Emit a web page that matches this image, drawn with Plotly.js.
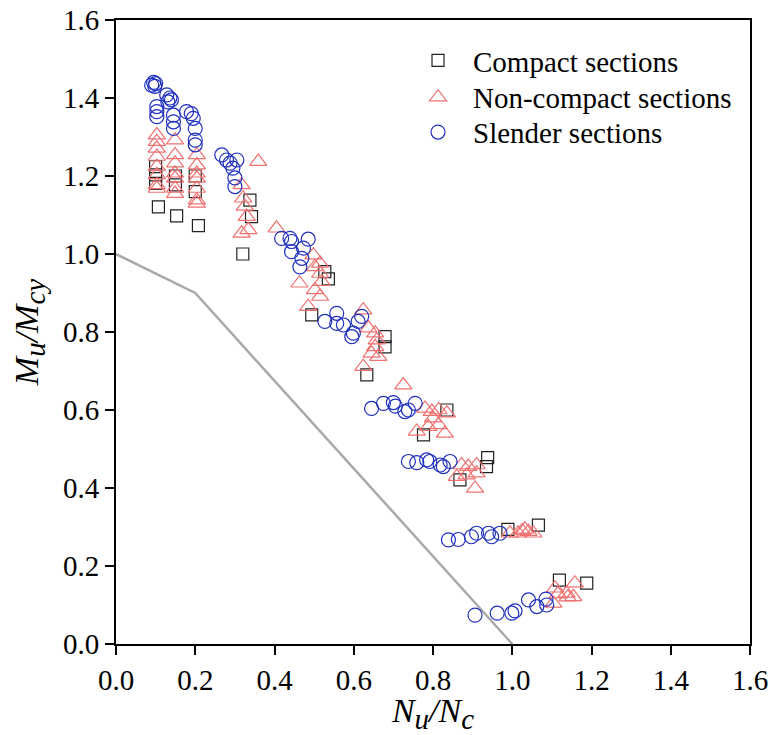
<!DOCTYPE html>
<html>
<head>
<meta charset="utf-8">
<script src="https://cdn.plot.ly/plotly-3.0.1.min.js"></script>
<style>html,body{margin:0;padding:0;background:#fff;}#chart{width:769px;height:735px;}</style>
</head>
<body>
<div id="chart"></div>
<script>
// Design curve
const curveX = [0.0, 0.2, 1.0];
const curveY = [1.0, 0.9, 0.0];

// Compact sections
const compactX = [0.107,0.10,0.10,0.10, 0.153,0.15,0.15, 0.208,0.20,0.20, 0.32, 0.338,0.342, 0.527,0.536,0.494, 0.679,0.679,0.633, 0.835,0.776, 0.938,0.935,0.868, 0.989,1.066, 1.119,1.188];
const compactY = [1.121,1.224,1.203,1.181, 1.098,1.20,1.177, 1.073,1.20,1.16, 1.0, 1.138,1.096, 0.955,0.936,0.844, 0.788,0.762,0.69, 0.60,0.536, 0.478,0.455,0.421, 0.294,0.305, 0.164,0.156];

// Non-compact sections
const noncompactX = [0.103,0.103,0.103,0.103,0.103,0.103,0.103,0.103,
  0.149,0.149,0.149,0.149,0.149,0.149,0.149,
  0.204,0.204,0.204,0.204,0.204,0.204,0.204,
  0.359, 0.317,0.321,0.325,0.330,0.334,0.317,
  0.405,
  0.498,0.515,0.502,0.515,0.519,0.463,0.502,0.515,0.485,
  0.624,0.637,0.654,0.658,0.654,0.645,0.662,0.624,
  0.725,
  0.780,0.797,0.814,0.835,0.800,0.814,0.788,0.759,0.830,
  0.872,0.889,0.910,0.885,0.860,0.910,0.906,
  0.994,1.015,1.032,1.041,1.053,1.025,
  1.108,1.104,1.137,1.158,1.154,1.140,1.115];
const noncompactY = [1.305,1.288,1.271,1.250,1.224,1.203,1.177,1.168,
  1.292,1.254,1.233,1.207,1.194,1.168,1.155,
  1.254,1.228,1.207,1.194,1.168,1.138,1.130,
  1.237, 1.177,1.143,1.122,1.096,1.062,1.053,
  1.066,
  0.997,0.976,0.967,0.950,0.929,0.925,0.908,0.891,0.865,
  0.856,0.810,0.797,0.779,0.762,0.745,0.737,0.711,
  0.664,
  0.604,0.596,0.600,0.592,0.579,0.562,0.557,0.545,0.540,
  0.459,0.455,0.459,0.433,0.429,0.438,0.399,
  0.284,0.284,0.294,0.288,0.284,0.290,
  0.143,0.104,0.130,0.156,0.121,0.120,0.128];

// Slender sections
const slenderX = [0.090,0.095,0.100,0.098,
  0.128,0.136,0.131,0.140,
  0.103,0.103,0.103,
  0.145,0.145,0.145,
  0.178,0.190,0.195,0.200,0.200,0.200,
  0.267,0.279,0.288,0.305,0.300,0.300,0.295,
  0.418,0.439,0.443,0.485,0.443,0.473,0.469,0.464,
  0.527,0.557,0.557,0.574,0.599,0.595,0.611,0.620,
  0.645,0.675,0.700,0.705,0.729,0.755,0.738,
  0.738,0.759,0.784,0.792,0.818,0.826,0.843,
  0.839,0.864,0.897,0.910,0.940,0.948,0.969,
  0.906,0.962,0.999,1.007,1.041,1.062,1.085,1.087];
const slenderY = [1.433,1.440,1.437,1.430,
  1.408,1.400,1.390,1.395,
  1.378,1.365,1.352,
  1.356,1.339,1.322,
  1.365,1.360,1.348,1.322,1.292,1.280,
  1.254,1.241,1.233,1.241,1.195,1.173,1.220,
  1.040,1.040,1.032,1.038,1.006,1.015,0.989,0.967,
  0.827,0.848,0.822,0.818,0.797,0.788,0.827,0.840,
  0.604,0.617,0.619,0.610,0.596,0.617,0.600,
  0.468,0.465,0.472,0.468,0.459,0.455,0.468,
  0.267,0.268,0.275,0.284,0.284,0.275,0.284,
  0.074,0.079,0.079,0.085,0.113,0.096,0.115,0.100];

const tickVals = [0.0,0.2,0.4,0.6,0.8,1.0,1.2,1.4,1.6];
const tickText = ['0.0','0.2','0.4','0.6','0.8','1.0','1.2','1.4','1.6'];

const FONT = 'Liberation Serif';

const traces = [
  {x: curveX, y: curveY, mode: 'lines', line: {color: '#a9a9a9', width: 2.5}, showlegend: false, hoverinfo: 'skip'},
  {x: compactX, y: compactY, mode: 'markers', name: 'Compact sections', legend: 'legend',
   marker: {symbol: 'square-open', size: 12, color: '#222222', line: {width: 1.2}}},
  {x: noncompactX, y: noncompactY, mode: 'markers', name: 'Non-compact sections', legend: 'legend2',
   marker: {symbol: 'triangle-up-open', size: 15, color: '#f07070', line: {width: 1.2}}},
  {x: slenderX, y: slenderY, mode: 'markers', name: 'Slender sections', legend: 'legend3',
   marker: {symbol: 'circle-open', size: 14, color: '#1f2fbf', line: {width: 1.2}}}
];

const axisCommon = {
  range: [0, 1.6], tickvals: tickVals, ticktext: tickText,
  showgrid: false, zeroline: false, showline: true, linecolor: '#000', linewidth: 2,
  mirror: true, ticks: 'outside', ticklen: 9, tickwidth: 2, tickcolor: '#000',
  tickfont: {family: FONT, size: 29, color: '#000'}
};

function legendAt(yv) {
  return {
    x: 0.4527, y: yv, xanchor: 'left', yanchor: 'top',
    bgcolor: 'rgba(0,0,0,0)', borderwidth: 0,
    font: {family: FONT, size: 29, color: '#000'},
    itemwidth: 60
  };
}

const SUB = (s) => '<sub><span style="font-size:29px"><i>' + s + '</i></span></sub>';

const layout = {
  width: 769, height: 735,
  margin: {l: 116, r: 19, t: 20, b: 91},
  paper_bgcolor: '#fff', plot_bgcolor: '#fff',
  font: {family: FONT, color: '#000'},
  xaxis: Object.assign({}, axisCommon, {
    title: {text: '<i>N</i>' + SUB('u') + '<i>/N</i>' + SUB('c'), font: {family: FONT, size: 34}, standoff: 10}
  }),
  yaxis: Object.assign({}, axisCommon, {
    title: {text: '<i>M</i>' + SUB('u') + '<i>/M</i>' + SUB('cy'), font: {family: FONT, size: 34}, standoff: 14}
  }),
  legend: legendAt(0.976),
  legend2: legendAt(0.917),
  legend3: legendAt(0.861),
  showlegend: true
};

Plotly.newPlot('chart', traces, layout, {staticPlot: true, displayModeBar: false});
</script>
</body>
</html>
